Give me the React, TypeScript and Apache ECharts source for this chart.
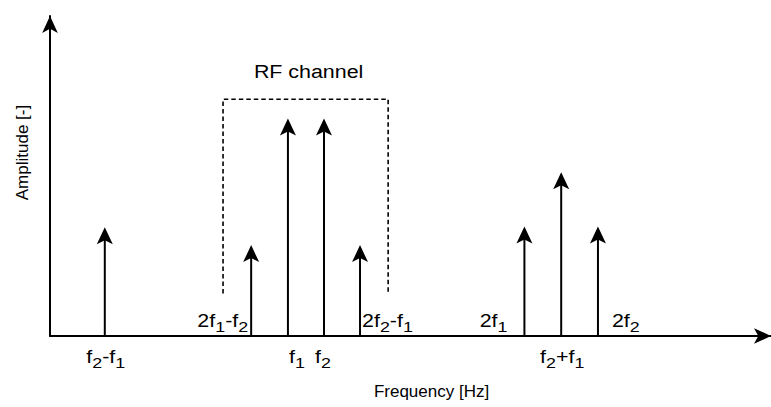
import React, { useEffect, useRef } from "react";
import * as echarts from "echarts";

// ---- data ----
const toneLabels = ["f2-f1", "2f1-f2", "f1", "f2", "2f2-f1", "2f1", "f2+f1", "2f2"];
const toneFrequencies = [7.6, 27.9, 33, 38, 43, 65.8, 70.9, 76];
const toneAmplitudes = [34, 28.4, 68, 68, 28.4, 34.2, 51.2, 34.2];
const rfChannelEdges = [24, 46.9];
const rfChannelLevels = [13.3, 74];
const rfChannelName = "RF channel";
const xAxisTitle = "Frequency [Hz]";
const yAxisTitle = "Amplitude [-]";

// ---- label placement (style only) ----
const labelPlacement = ["below", "left", "below", "below", "right", "left", "below", "right"];
const labelDx = [1, -3, 9, -1, 2, -17, 1, 14];

const FONT = "'Liberation Sans', Arial, Helvetica, sans-serif";
const STRETCH = 1.19;

function toRich(label: string): string {
  let out = "";
  let cur = "";
  let curStyle = "";
  for (let i = 0; i < label.length; i++) {
    const ch = label[i];
    const style = /\d/.test(ch) && i > 0 && label[i - 1] === "f" ? "s" : "m";
    if (style !== curStyle && cur) {
      out += `{${curStyle}|${cur}}`;
      cur = "";
    }
    curStyle = style;
    cur += ch;
  }
  if (cur) out += `{${curStyle}|${cur}}`;
  return out;
}

const richStyles = {
  m: { fontSize: 18, lineHeight: 18, height: 18, verticalAlign: "bottom", fontFamily: FONT, fill: "#000" },
  s: { fontSize: 15, lineHeight: 6, height: 6, verticalAlign: "bottom", fontFamily: FONT, fill: "#000" },
};

export default function App() {
  const ref = useRef<HTMLDivElement>(null);
  useEffect(() => {
    if (!ref.current) return;
    const chart = echarts.init(ref.current, null, { renderer: "svg" });
    const toneData = toneFrequencies.map((f, i) => [f, toneAmplitudes[i], i]);
    const channelLine = [
      [rfChannelEdges[0], rfChannelLevels[0]],
      [rfChannelEdges[0], rfChannelLevels[1]],
      [rfChannelEdges[1], rfChannelLevels[1]],
      [rfChannelEdges[1], rfChannelLevels[0]],
    ];
    const option: any = {
      animation: false,
      grid: { left: 50, right: 0, top: 16, bottom: 71 },
      xAxis: {
        type: "value",
        min: 0,
        max: 100,
        name: xAxisTitle,
        nameLocation: "middle",
        nameGap: 46.5,
        nameTextStyle: { fontSize: 17, fontFamily: FONT, color: "#000", padding: [0, 0, 0, 42] },
        axisLine: {
          show: true,
          lineStyle: { color: "#000", width: 2 },
          symbol: ["none", "arrow"],
          symbolSize: [11.75, 17],
        },
        axisTick: { show: false },
        axisLabel: { show: false },
        splitLine: { show: false },
      },
      yAxis: {
        type: "value",
        min: 0,
        max: 100,
        name: yAxisTitle,
        nameLocation: "middle",
        nameRotate: 90,
        nameGap: 19.5,
        nameTextStyle: { fontSize: 17, fontFamily: FONT, color: "#000", padding: [0, 0, 0, 47] },
        axisLine: {
          show: true,
          lineStyle: { color: "#000", width: 2 },
          symbol: ["none", "arrow"],
          symbolSize: [11.75, 17],
        },
        axisTick: { show: false },
        axisLabel: { show: false },
        splitLine: { show: false },
      },
      series: [
        {
          type: "line",
          data: channelLine,
          symbol: "none",
          silent: true,
          lineStyle: { color: "#000", width: 1.6, type: [4.5, 3] },
          z: 1,
        },
        {
          type: "custom",
          data: [[(rfChannelEdges[0] + rfChannelEdges[1]) / 2, rfChannelLevels[1]]],
          renderItem: (params: any, api: any) => {
            const p = api.coord([api.value(0), api.value(1)]);
            return {
              type: "text",
              x: p[0] + 3,
              y: p[1] - 18.2,
              scaleX: STRETCH,
              style: {
                text: rfChannelName,
                fontSize: 18,
                lineHeight: 18,
                fontFamily: FONT,
                fill: "#000",
                align: "center",
                verticalAlign: "bottom",
              },
            };
          },
          z: 3,
        },
        {
          type: "custom",
          data: toneData,
          renderItem: (params: any, api: any) => {
            const idx = api.value(2);
            const base = api.coord([api.value(0), 0]);
            const tip = api.coord([api.value(0), api.value(1)]);
            const tx = tip[0];
            const ty = tip[1];
            const place = labelPlacement[idx];
            const dx = labelDx[idx];
            const text = {
              type: "text",
              x: base[0] + dx,
              y: place === "below" ? base[1] + 11.5 : base[1] - 6.5,
              scaleX: STRETCH,
              style: {
                text: toRich(toneLabels[idx]),
                rich: richStyles,
                fontFamily: FONT,
                fontSize: 18,
                fill: "#000",
                align: place === "below" ? "center" : place === "left" ? "right" : "left",
                verticalAlign: place === "below" ? "top" : "bottom",
              },
            };
            return {
              type: "group",
              children: [
                {
                  type: "line",
                  shape: { x1: base[0], y1: base[1], x2: tx, y2: ty + 12 },
                  style: { stroke: "#000", lineWidth: 2 },
                },
                {
                  type: "polygon",
                  shape: {
                    points: [
                      [tx, ty],
                      [tx + 8, ty + 17],
                      [tx, ty + 13],
                      [tx - 8, ty + 17],
                    ],
                  },
                  style: { fill: "#000" },
                },
                text,
              ],
            };
          },
          z: 4,
        },
      ],
    };
    chart.setOption(option);
    return () => chart.dispose();
  }, []);
  return (
    <div
      ref={ref}
      style={{ position: "absolute", left: 0, top: 0, width: 771, height: 407, background: "#fff" }}
    />
  );
}
